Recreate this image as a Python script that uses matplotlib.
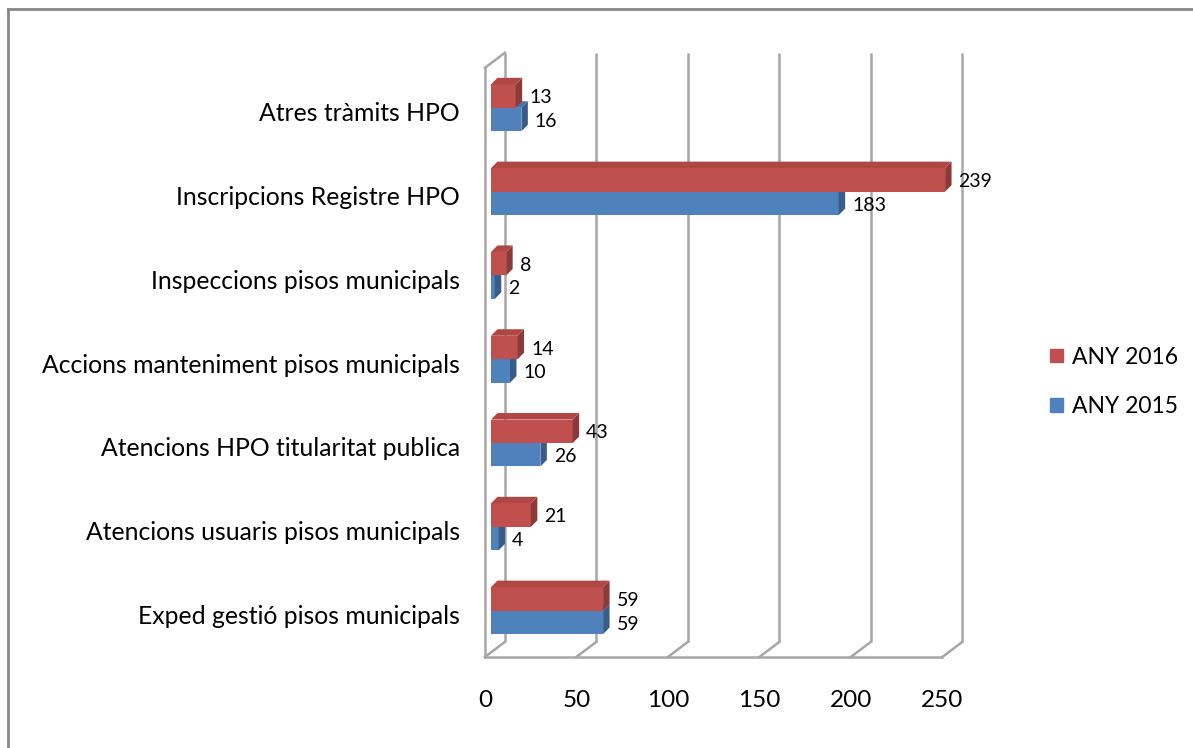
import matplotlib.pyplot as plt
from matplotlib.patches import Polygon, Patch
from matplotlib.lines import Line2D

plt.rcParams['font.family'] = ['Lato', 'DejaVu Sans']

# categories listed bottom to top
categories = ["Exped gestió pisos municipals",
              "Atencions usuaris pisos municipals",
              "Atencions HPO titularitat publica",
              "Accions manteniment pisos municipals",
              "Inspeccions pisos municipals",
              "Inscripcions Registre HPO",
              "Atres tràmits HPO"]
any_2016 = [59, 21, 43, 14, 8, 239, 13]
any_2015 = [59, 4, 26, 10, 2, 183, 16]
ticks = [0, 50, 100, 150, 200, 250]

W, H = 1193, 748
fig = plt.figure(figsize=(W / 100, H / 100), dpi=100)
ax = fig.add_axes([0, 0, 1, 1])
ax.axis('off')

# one value unit = 1.9 px, one category step = 83.8 px
ax.set_xlim(-491 / 1.9, (W - 491) / 1.9)
ax.set_ylim((616.5 - H) / 83.8, 616.5 / 83.8)

grid_c = '#a6a6a6'
wall_scale = 0.963   # floor ticks run a little tighter than the bars
front_x0 = -3.2      # left wall, front edge
depth_dx, depth_dy = 10.5, 0.18
floor_y = -0.483
wall_h = 7.03

def front_x(t):
    return front_x0 + wall_scale * t

# back wall gridlines + floor diagonals
for t in ticks:
    fx = front_x(t)
    bx = fx + depth_dx
    ax.plot([bx, bx], [floor_y + depth_dy, floor_y + depth_dy + wall_h],
            color=grid_c, lw=1.8, zorder=1, solid_capstyle='butt')
    ax.plot([fx, bx], [floor_y, floor_y + depth_dy], color=grid_c, lw=1.8, zorder=1)
    ax.text(fx, -1.0, str(t), ha='center', va='center', fontsize=17.5)

# floor front edge
ax.plot([front_x(ticks[0]), front_x(ticks[-1])], [floor_y, floor_y],
        color=grid_c, lw=1.8, zorder=1)
# left wall front edge and top
ax.plot([front_x0, front_x0], [floor_y, floor_y + wall_h], color=grid_c, lw=1.8, zorder=1)
ax.plot([front_x0, front_x0 + depth_dx], [floor_y + wall_h, floor_y + wall_h + depth_dy],
        color=grid_c, lw=1.8, zorder=1)

# bars with a bit of depth
h = 0.28
off = 0.07
bdx, bdy = 3.4, 0.078
y = list(range(len(categories)))

def draw_series(vals, ycent, front, side, top, z):
    bars = ax.barh(ycent, vals, height=h, color=front, zorder=z, linewidth=0)
    for b in bars:
        x0, y0 = b.get_x(), b.get_y()
        w, hh = b.get_width(), b.get_height()
        ax.add_patch(Polygon([(x0 + w, y0), (x0 + w + bdx, y0 + bdy),
                              (x0 + w + bdx, y0 + hh + bdy), (x0 + w, y0 + hh)],
                             closed=True, color=side, lw=0, zorder=z))
        ax.add_patch(Polygon([(x0, y0 + hh), (x0 + bdx, y0 + hh + bdy),
                              (x0 + w + bdx, y0 + hh + bdy), (x0 + w, y0 + hh)],
                             closed=True, color=top, lw=0, zorder=z))
    for v, yc in zip(vals, ycent):
        ax.text(v + bdx + 3.7, yc - 0.02, str(v), ha='left', va='center',
                fontsize=14, zorder=6)

blue_y = [c + off - h / 2 for c in y]
red_y = [c + off + h / 2 for c in y]
draw_series(any_2015, blue_y, '#4f81bd', '#385d8a', '#4673aa', 3)
draw_series(any_2016, red_y, '#c0504d', '#8c3a38', '#b04744', 4)

for c, name in zip(y, categories):
    ax.text(-16.3, c, name, ha='right', va='center', fontsize=17.8)

handles = [Patch(color='#c0504d'), Patch(color='#4f81bd')]
fig.legend(handles, ['ANY 2016', 'ANY 2015'], loc='center left',
           bbox_to_anchor=(1050 / W, 1 - 382 / H), frameon=False, borderpad=0,
           borderaxespad=0, handlelength=0.55, handleheight=0.55, handletextpad=0.4,
           labelspacing=1.25, fontsize=16.5)

# outer chart border (left and top edges)
fig.add_artist(Line2D([8 / W, 8 / W], [0, 1 - 9 / H], color='#878787', lw=2))
fig.add_artist(Line2D([8 / W, 1], [1 - 9 / H, 1 - 9 / H], color='#878787', lw=2))

fig.savefig('out.png', dpi=100)
